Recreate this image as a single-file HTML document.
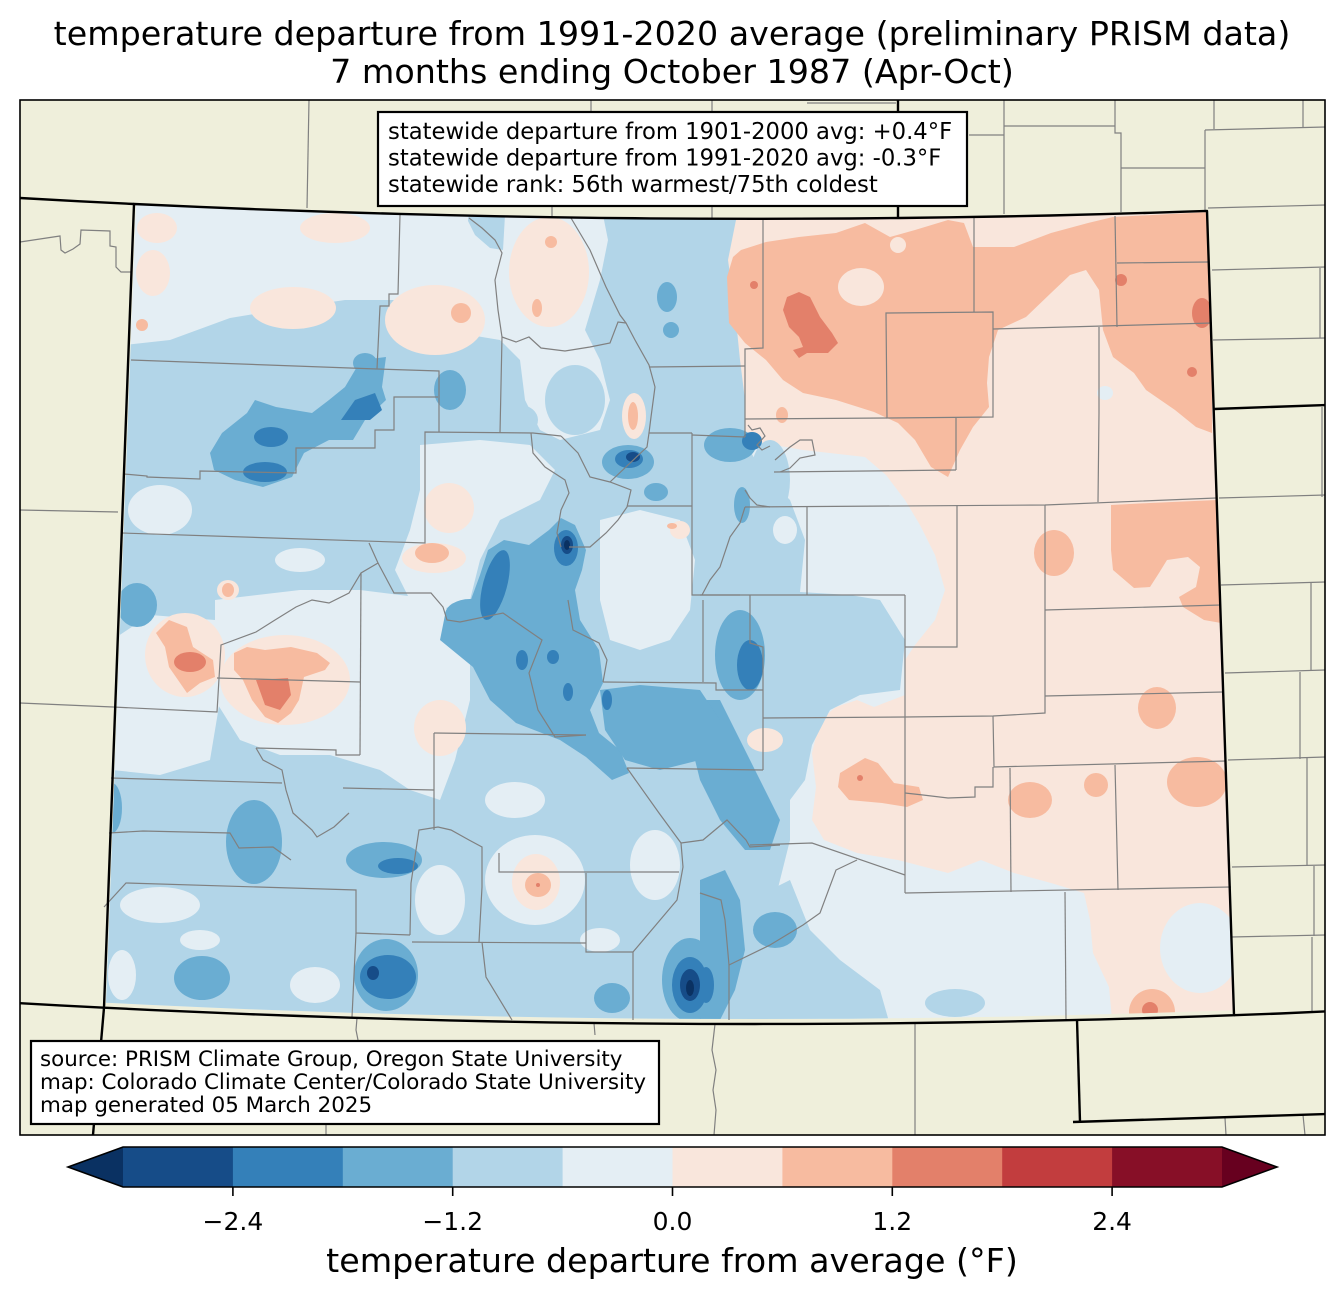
<!DOCTYPE html>
<html><head><meta charset="utf-8"><style>
html,body{margin:0;padding:0;background:#fff;}
svg{display:block;}
text{font-family:"DejaVu Sans","Liberation Sans",sans-serif;fill:#000;}
</style></head><body>
<svg xmlns="http://www.w3.org/2000/svg" width="1344" height="1299" viewBox="0 0 1344 1299">
<defs>
<clipPath id="co"><polygon points="136,204 200,206.9 250,209 300,210.8 350,212.5 400,213.9 450,215.2 500,216.3 550,217.2 600,217.9 650,218.4 700,218.7 755,218.8 800,218.7 850,218.5 900,218 950,217.3 1000,216.5 1050,215.5 1100,214.2 1150,212.8 1207,210.9 1233,1010.5 1200,1011.4 1150,1013 1100,1014.4 1050,1015.6 1000,1016.7 950,1017.5 900,1018.2 850,1018.7 800,1018.9 755,1019 700,1018.9 650,1018.6 600,1018.1 550,1017.4 500,1016.5 450,1015.4 400,1014.1 350,1012.7 300,1011 250,1009.2 200,1007.1 150,1004.9 106,1002.7"/></clipPath>
<clipPath id="fr"><rect x="20" y="100" width="1305" height="1035"/></clipPath>
</defs>
<rect width="1344" height="1299" fill="#fff"/>
<text x="672" y="45" font-size="33.3" text-anchor="middle">temperature departure from 1991-2020 average (preliminary PRISM data)</text>
<text x="672" y="83" font-size="33.3" text-anchor="middle">7 months ending October 1987 (Apr-Oct)</text>
<rect x="20" y="100" width="1305" height="1035" fill="#efefdb"/>

<g clip-path="url(#co)">
<rect x="90" y="190" width="1170" height="850" fill="#e4eef4"/>
<!-- east pink -->
<polygon fill="#f9e6dc" points="722,200 1250,200 1250,1030 1113,1030 1109,987 1093,953 1090,920 1084,893 1051,883 1014,873 981,860 948,873 898,860 857,853 824,840 812,820 816,787 812,753 820,720 836,707 857,700 874,707 905,695 905,660 915,645 935,620 945,590 935,555 920,525 905,500 886,475 865,457 803,450 745,440 745,423 740,390 729,350 722,300"/>
<!-- L4 main -->
<polygon fill="#b2d5e8" points="124,345 170,340 230,318 290,308 345,300 395,300 430,320 470,335 500,340 520,360 525,400 540,430 560,440 600,430 610,400 600,360 585,330 600,280 608,240 600,200 740,200 728,260 735,310 740,360 745,400 745,440 760,470 790,500 805,540 800,592 850,595 880,600 905,640 900,690 860,695 830,710 812,745 805,780 790,800 790,840 780,880 770,920 760,960 750,1030 90,1030 90,345"/>
<polygon fill="#b2d5e8" points="465,215 505,215 503,250 490,248 475,235"/>
<ellipse cx="575" cy="400" rx="30" ry="35" fill="#b2d5e8"/>
<ellipse cx="520" cy="420" rx="18" ry="15" fill="#b2d5e8"/>
<ellipse cx="770" cy="480" rx="20" ry="40" fill="#b2d5e8"/>
<polygon fill="#b2d5e8" points="750,900 790,880 810,930 840,960 880,990 890,1025 750,1025"/>
<ellipse cx="955" cy="1003" rx="30" ry="14" fill="#b2d5e8"/>
<!-- base holes -->
<g fill="#e4eef4">
<polygon points="90,200 470,200 465,250 460,295 430,300 395,290 345,288 290,295 240,305 190,320 150,330 90,335"/>
<ellipse cx="160" cy="510" rx="32" ry="25"/>
<polygon points="420,445 480,440 530,445 555,470 540,500 500,520 480,560 470,600 440,610 410,600 395,570 410,530 420,490"/>
<polygon points="215,600 300,590 360,590 440,600 470,640 470,700 455,760 440,800 410,790 380,770 330,755 280,755 240,740 215,700"/>
<polygon points="112,640 150,615 215,620 220,700 210,760 160,775 112,770"/>
<polygon points="600,520 640,510 680,520 695,560 690,610 670,640 640,650 610,640 600,600"/>
<ellipse cx="785" cy="530" rx="12" ry="14"/>
<ellipse cx="160" cy="905" rx="40" ry="18"/>
<ellipse cx="200" cy="940" rx="20" ry="10"/>
<ellipse cx="122" cy="975" rx="14" ry="25"/>
<ellipse cx="315" cy="985" rx="25" ry="18"/>
<ellipse cx="440" cy="900" rx="25" ry="35"/>
<ellipse cx="515" cy="800" rx="30" ry="18"/>
<ellipse cx="535" cy="880" rx="50" ry="45"/>
<ellipse cx="600" cy="940" rx="20" ry="12"/>
<ellipse cx="655" cy="865" rx="25" ry="35"/>
<ellipse cx="300" cy="560" rx="25" ry="12"/>
<ellipse cx="1200" cy="948" rx="40" ry="45"/>
<ellipse cx="1105" cy="393" rx="8" ry="7"/>
</g>
<!-- west pink -->
<g fill="#f9e6dc">
<ellipse cx="157" cy="228" rx="20" ry="15"/>
<ellipse cx="153" cy="273" rx="17" ry="23"/>
<ellipse cx="293" cy="308" rx="43" ry="21"/>
<ellipse cx="335" cy="228" rx="35" ry="15"/>
<ellipse cx="435" cy="320" rx="50" ry="35"/>
<ellipse cx="549" cy="272" rx="40" ry="55"/>
<ellipse cx="634" cy="416" rx="12" ry="23"/>
<ellipse cx="449" cy="508" rx="25" ry="25"/>
<ellipse cx="434" cy="558" rx="32" ry="15"/>
<ellipse cx="228" cy="590" rx="11" ry="10"/>
<ellipse cx="185" cy="655" rx="40" ry="42"/>
<ellipse cx="285" cy="680" rx="65" ry="45"/>
<ellipse cx="440" cy="728" rx="26" ry="28"/>
<ellipse cx="536" cy="882" rx="24" ry="28"/>
<ellipse cx="765" cy="740" rx="18" ry="12"/>
<ellipse cx="680" cy="530" rx="10" ry="9"/>
</g>
<!-- salmon -->
<g fill="#f7bba0">
<polygon points="741,250 766,242 799,237 836,233 865,223 890,237 915,230 948,220 964,223 973,247 1014,247 1051,233 1088,223 1113,217 1212,212 1212,433 1196,427 1175,410 1146,390 1134,373 1113,357 1103,330 1099,290 1086,270 1070,275 1051,293 1026,317 998,330 989,357 987,383 989,407 973,427 960,450 948,477 931,467 915,440 898,423 874,412 836,400 803,393 783,380 766,360 745,343 729,323 727,277 733,257"/>
<polygon points="1111,505 1150,503 1217,500 1221,623 1204,620 1183,607 1179,597 1196,587 1200,567 1188,557 1167,560 1159,573 1150,587 1134,588 1113,570 1111,550"/>
<ellipse cx="1054" cy="553" rx="20" ry="23"/>
<ellipse cx="1157" cy="708" rx="19" ry="21"/>
<ellipse cx="1197" cy="782" rx="30" ry="25"/>
<ellipse cx="1096" cy="785" rx="12" ry="12"/>
<ellipse cx="1030" cy="800" rx="22" ry="18"/>
<polygon points="840,773 865,758 878,763 894,783 919,787 923,800 907,807 882,803 849,800 838,787"/>
<ellipse cx="1152" cy="1012" rx="23" ry="23"/>
<ellipse cx="142" cy="325" rx="6" ry="6"/>
<ellipse cx="461" cy="313" rx="10" ry="10"/>
<ellipse cx="537" cy="308" rx="5" ry="9"/>
<ellipse cx="551" cy="242" rx="6" ry="6"/>
<ellipse cx="633" cy="416" rx="5" ry="14"/>
<ellipse cx="432" cy="553" rx="17" ry="10"/>
<ellipse cx="228" cy="590" rx="6" ry="7"/>
<ellipse cx="782" cy="415" rx="6" ry="8"/>
<ellipse cx="672" cy="526" rx="5" ry="3"/>
<polygon points="156,633 169,620 187,627 193,647 213,660 215,677 200,683 187,693 178,680 169,667 165,647"/>
<polygon points="234,653 247,647 265,650 291,647 317,653 330,663 325,670 304,677 299,700 291,713 278,723 265,717 252,700 243,680 234,670"/>
<ellipse cx="538" cy="885" rx="13" ry="12"/>
</g>
<g fill="#f9e6dc">
<ellipse cx="861" cy="287" rx="23" ry="19"/>
<ellipse cx="898" cy="245" rx="8" ry="8"/>
</g>
<g fill="#e3806a">
<polygon points="787,297 799,292 810,297 820,317 832,333 838,343 828,353 807,353 799,358 793,350 803,347 799,337 789,327 783,310"/>
<circle cx="1121" cy="280" r="6"/>
<ellipse cx="1202" cy="313" rx="10" ry="15"/>
<circle cx="754" cy="285" r="4"/>
<circle cx="1192" cy="372" r="5"/>
<circle cx="860" cy="778" r="3"/>
<ellipse cx="1150" cy="1010" rx="8" ry="8"/>
<ellipse cx="190" cy="662" rx="16" ry="10"/>
<polygon points="256,680 288,678 291,695 280,710 265,705"/>
<circle cx="538" cy="885" r="2"/>
</g>
<!-- L3 -->
<g fill="#6aadd2">
<polygon points="210,453 222,433 247,413 255,400 276,407 312,413 329,400 345,387 361,360 386,357 382,387 386,400 365,420 353,440 329,440 304,453 292,477 263,487 235,480 214,470"/>
<ellipse cx="450" cy="390" rx="16" ry="20"/>
<ellipse cx="365" cy="363" rx="12" ry="10"/>
<polygon points="469,605 480,575 488,550 504,540 529,545 549,530 561,518 575,525 586,550 582,570 575,590 580,620 599,650 603,683 590,710 599,733 620,750 629,773 612,780 586,757 560,740 516,723 490,700 473,667 440,640 445,615"/>
<ellipse cx="740" cy="655" rx="25" ry="45"/>
<ellipse cx="628" cy="462" rx="26" ry="17"/>
<ellipse cx="656" cy="492" rx="12" ry="9"/>
<ellipse cx="730" cy="445" rx="26" ry="17"/>
<ellipse cx="742" cy="505" rx="8" ry="18"/>
<polygon points="690,700 720,700 740,740 760,780 780,820 770,850 745,850 720,820 700,780 690,740"/>
<polygon points="600,690 640,685 700,690 720,720 700,760 660,770 625,760 605,730"/>
<ellipse cx="254" cy="842" rx="28" ry="42"/>
<ellipse cx="202" cy="978" rx="28" ry="22"/>
<ellipse cx="384" cy="860" rx="38" ry="18"/>
<ellipse cx="386" cy="975" rx="32" ry="36"/>
<ellipse cx="690" cy="980" rx="28" ry="42"/>
<ellipse cx="612" cy="998" rx="18" ry="15"/>
<ellipse cx="112" cy="808" rx="10" ry="25"/>
<ellipse cx="137" cy="605" rx="20" ry="22"/>
<ellipse cx="667" cy="297" rx="10" ry="15"/>
<ellipse cx="671" cy="330" rx="8" ry="8"/>
<polygon points="700,880 725,870 740,900 745,950 735,990 720,1020 700,1020"/>
<ellipse cx="775" cy="930" rx="22" ry="18"/>
<ellipse cx="470" cy="615" rx="25" ry="16"/>
</g>
<!-- L2 -->
<g fill="#3480b9">
<ellipse cx="271" cy="437" rx="17" ry="10"/>
<polygon points="341,420 355,400 375,393 382,410 370,420"/>
<ellipse cx="265" cy="472" rx="22" ry="10"/>
<ellipse cx="495" cy="585" rx="12" ry="36" transform="rotate(15 495 585)"/>
<ellipse cx="566" cy="548" rx="12" ry="18"/>
<ellipse cx="522" cy="660" rx="6" ry="10"/>
<ellipse cx="553" cy="657" rx="6" ry="7"/>
<ellipse cx="568" cy="692" rx="5" ry="9"/>
<ellipse cx="607" cy="700" rx="5" ry="10"/>
<ellipse cx="629" cy="459" rx="14" ry="9"/>
<ellipse cx="750" cy="665" rx="13" ry="25"/>
<ellipse cx="752" cy="441" rx="10" ry="9"/>
<ellipse cx="398" cy="866" rx="20" ry="8"/>
<ellipse cx="388" cy="977" rx="28" ry="22"/>
<ellipse cx="690" cy="985" rx="18" ry="28"/>
<ellipse cx="706" cy="985" rx="8" ry="18"/>
</g>
<g fill="#164c88">
<ellipse cx="567" cy="545" rx="6" ry="9"/>
<ellipse cx="633" cy="457" rx="7" ry="5"/>
<ellipse cx="373" cy="973" rx="6" ry="7"/>
<ellipse cx="690" cy="985" rx="10" ry="16"/>
</g>
<g fill="#0a3162">
<ellipse cx="690" cy="988" rx="4" ry="8"/>
<ellipse cx="567" cy="545" rx="3" ry="5"/>
</g>
</g>

<!-- county lines -->
<g fill="none" stroke="#808080" stroke-width="1.2" clip-path="url(#fr)">
<polyline points="400,215 398,294 389,294 389,306 380,306 377,369"/>
<polyline points="131,360 377,369 439,371 439,432"/>
<polyline points="124,474 147,476 147,477 200,479 200,471 296,473 296,448 375,448 375,430 394,430 394,397 438,397"/>
<polyline points="122,533 425,543 425,432 533,433 561,436"/>
<polyline points="469,218 482,228 495,240 502,253 495,280 498,310 502,337 500,433"/>
<polyline points="571,218 590,250 606,287 620,315 626,323 635,340 649,365 655,387 651,417 649,433"/>
<polyline points="502,337 516,342 529,337 541,348 565,351 590,347 610,343 618,322 626,323"/>
<polyline points="649,367 745,366"/>
<polyline points="763,218 763,348 745,349 745,437"/>
<polyline points="531,433 533,453 545,467 565,480 569,493 561,510 557,533 561,547"/>
<polyline points="561,436 578,453 590,477 610,482 631,490 627,507 618,520 606,533 590,547 569,547"/>
<polyline points="610,482 647,447 649,433 692,433"/>
<polyline points="627,506 692,506"/>
<polyline points="692,433 692,595 740,595"/>
<polyline points="692,435 745,437"/>
<polyline points="369,543 378,563 361,573 349,593 329,603 312,600 296,607 275,620 256,632 221,645 217,712 113,707"/>
<polyline points="378,563 394,593 431,593 443,607 447,620 460,622 503,613 542,640 529,673 538,710 555,737 586,735"/>
<polyline points="217,678 360,682"/>
<polyline points="361,573 360,755"/>
<polyline points="256,748 336,750 336,755 360,755"/>
<polyline points="256,748 263,760 282,770 286,790 293,813 312,830 317,837 334,827 349,813"/>
<polyline points="111,778 282,783"/>
<polyline points="109,833 143,831 230,833 239,848 273,847 291,860"/>
<polyline points="104,907 126,883 356,890 356,933 410,935"/>
<polyline points="356,933 352,1017"/>
<polyline points="410,935 411,883 419,830 438,827 451,830 469,840 482,847 482,887 479,942"/>
<polyline points="412,942 586,943"/>
<polyline points="482,942 486,977 512,1020"/>
<polyline points="499,853 499,872 679,872"/>
<polyline points="586,873 586,952 633,952 633,1020"/>
<polyline points="343,788 434,790"/>
<polyline points="434,733 434,830"/>
<polyline points="434,733 586,735"/>
<polyline points="603,682 716,683 716,690 763,690"/>
<polyline points="627,768 763,770"/>
<polyline points="627,768 659,813 681,843 683,867 677,900 633,952"/>
<polyline points="681,843 703,840 727,820 746,840 750,847 780,845"/>
<polyline points="750,845 812,843 905,875"/>
<polyline points="700,893 721,900 725,920 729,965 729,1020"/>
<polyline points="857,860 836,870 820,913 803,925 770,945 729,965"/>
<polyline points="568,600 573,630 599,643 607,660 603,682"/>
<polyline points="703,600 703,682"/>
<polyline points="750,595 750,643 763,647 763,770"/>
<polyline points="700,595 905,595"/>
<polyline points="905,595 905,893"/>
<polyline points="905,647 957,647 957,505"/>
<polyline points="763,718 905,717"/>
<polyline points="905,717 993,716 1045,713 1045,505"/>
<polyline points="1045,610 1221,605"/>
<polyline points="1045,696 1223,692"/>
<polyline points="993,716 994,767 1226,761"/>
<polyline points="1010,768 1011,892"/>
<polyline points="1115,765 1118,890"/>
<polyline points="905,793 923,795 948,798 975,797 975,787 993,787 993,767"/>
<polyline points="905,893 1231,887"/>
<polyline points="1065,892 1066,1020"/>
<polygon points="886,313 993,312 993,417 887,418"/>
<polyline points="974,217 974,312"/>
<polyline points="993,329 1212,323"/>
<polyline points="1115,216 1117,327"/>
<polyline points="1117,263 1208,262"/>
<polyline points="1099,327 1099,413 1098,502"/>
<polyline points="745,419 887,418"/>
<polyline points="956,418 956,470"/>
<polyline points="774,472 956,470"/>
<polyline points="745,507 1045,505 1216,498"/>
<polyline points="807,507 807,595"/>
<polyline points="748,425 752,430 760,428 765,436 757,445 762,450 770,446"/>
<polyline points="775,460 790,447 800,440 812,440 815,455 800,458 790,468 780,472"/>
<polyline points="745,490 750,498 757,505 770,507"/>
<polyline points="745,507 740,523 730,537 720,567 710,580 702,595"/>
<!-- outside -->
<polyline points="309,100 307,208"/>
<polyline points="20,242 60,236 61,250 65,253 73,249 80,244 81,230 110,231 110,246 116,247 116,267 121,272 131,272"/>
<polyline points="20,510 118,512"/>
<polyline points="20,703 113,707"/>
<polyline points="591,100 591,112"/>
<polyline points="712,100 712,112"/>
<polyline points="712,206 712,218"/>
<polyline points="552,206 552,217"/>
<polyline points="807,103 896,103"/>
<polyline points="969,135 1004,135"/>
<polyline points="1004,100 1004,214"/>
<polyline points="1004,126 1115,126"/>
<polyline points="1115,100 1115,133 1121,133 1121,212"/>
<polyline points="1121,168 1205,168"/>
<polyline points="1205,130 1205,211"/>
<polyline points="1205,130 1326,127"/>
<polyline points="1214,100 1214,129"/>
<polyline points="1303,100 1303,127"/>
<polyline points="1208,208 1326,205"/>
<polyline points="1212,270 1326,267"/>
<polyline points="1320,268 1320,338"/>
<polyline points="1213,340 1326,338"/>
<polyline points="1219,498 1326,495"/>
<polyline points="1322,407 1322,497"/>
<polyline points="1221,585 1326,582"/>
<polyline points="1311,583 1311,671"/>
<polyline points="1225,673 1326,670"/>
<polyline points="1300,672 1300,759"/>
<polyline points="1228,760 1326,757"/>
<polyline points="1307,758 1307,866"/>
<polyline points="1232,867 1326,865"/>
<polyline points="1314,866 1314,936"/>
<polyline points="1231,937 1326,935"/>
<polyline points="1312,937 1312,1012"/>
<polyline points="357,1018 356,1030 358,1040"/>
<polyline points="326,1124 326,1135"/>
<polyline points="594,1023 595,1035"/>
<polyline points="715,1024 712,1050 716,1070 713,1090 716,1110 714,1135"/>
<polyline points="915,1023 915,1135"/>
<polyline points="1225,1118 1226,1135"/>
<polyline points="1303,1115 1305,1135"/>
</g>

<!-- state borders -->
<g fill="none" stroke="#000" stroke-width="2.4" clip-path="url(#fr)" stroke-linejoin="round">
<polygon points="134,204 200,206.9 250,209 300,210.8 350,212.5 400,213.9 450,215.2 500,216.3 550,217.2 600,217.9 650,218.4 700,218.7 755,218.8 800,218.7 850,218.5 900,218 950,217.3 1000,216.5 1050,215.5 1100,214.2 1150,212.8 1207,210.9 1234,1015.2 1200,1016.4 1150,1018 1100,1019.4 1050,1020.6 1000,1021.7 950,1022.5 900,1023.2 850,1023.7 800,1023.9 755,1024 700,1023.9 650,1023.6 600,1023.1 550,1022.4 500,1021.5 450,1020.4 400,1019.1 350,1017.7 300,1016 250,1014.2 200,1012.1 150,1009.9 104,1007.7"/>
<polyline points="20,198 80,201.3 134,204"/>
<polyline points="898,100 898,218"/>
<polyline points="1214,409 1326,405"/>
<polyline points="1234,1015.2 1280,1013.5 1326,1011.4"/>
<polyline points="20,1003.2 60,1005.4 104,1007.7"/>
<polyline points="104,1007.7 93,1135"/>
<polyline points="1077,1019.6 1080,1122"/>
<polyline points="1073,1122 1326,1114"/>
</g>
<rect x="20" y="100" width="1305" height="1035" fill="none" stroke="#000" stroke-width="1.6"/>

<!-- info boxes -->
<rect x="378" y="112" width="589" height="94" fill="#fff" stroke="#000" stroke-width="2.2"/>
<text x="388" y="139" font-size="22.7">statewide departure from 1901-2000 avg: +0.4°F</text>
<text x="388" y="165.5" font-size="22.7">statewide departure from 1991-2020 avg: -0.3°F</text>
<text x="388" y="192" font-size="22.7">statewide rank: 56th warmest/75th coldest</text>

<rect x="31" y="1041" width="628" height="83" fill="#fff" stroke="#000" stroke-width="2.2"/>
<text x="40" y="1066" font-size="21.4">source: PRISM Climate Group, Oregon State University</text>
<text x="40" y="1089" font-size="21.4">map: Colorado Climate Center/Colorado State University</text>
<text x="40" y="1112" font-size="21.4">map generated 05 March 2025</text>

<!-- colorbar -->
<polygon points="68,1167 123,1147 123,1187" fill="#0a3162"/>
<rect x="123" y="1147" width="110.4" height="40" fill="#164c88"/>
<rect x="232.9" y="1147" width="110.4" height="40" fill="#3480b9"/>
<rect x="342.8" y="1147" width="110.4" height="40" fill="#6aadd2"/>
<rect x="452.7" y="1147" width="110.4" height="40" fill="#b2d5e8"/>
<rect x="562.6" y="1147" width="110.4" height="40" fill="#e4eef4"/>
<rect x="672.5" y="1147" width="110.4" height="40" fill="#f9e6dc"/>
<rect x="782.4" y="1147" width="110.4" height="40" fill="#f7bba0"/>
<rect x="892.3" y="1147" width="110.4" height="40" fill="#e3806a"/>
<rect x="1002.2" y="1147" width="110.4" height="40" fill="#c23d3e"/>
<rect x="1112.1" y="1147" width="109.9" height="40" fill="#870f27"/>
<polygon points="1222,1147 1277,1167 1222,1187" fill="#67001f"/>
<polygon points="68,1167 123,1147 1222,1147 1277,1167 1222,1187 123,1187" fill="none" stroke="#000" stroke-width="1.6"/>
<g stroke="#000" stroke-width="1.6">
<line x1="232.9" y1="1187" x2="232.9" y2="1196"/>
<line x1="452.7" y1="1187" x2="452.7" y2="1196"/>
<line x1="672.5" y1="1187" x2="672.5" y2="1196"/>
<line x1="892.3" y1="1187" x2="892.3" y2="1196"/>
<line x1="1112.1" y1="1187" x2="1112.1" y2="1196"/>
</g>
<g font-size="25" text-anchor="middle">
<text x="232.9" y="1230">−2.4</text>
<text x="452.7" y="1230">−1.2</text>
<text x="672.5" y="1230">0.0</text>
<text x="892.3" y="1230">1.2</text>
<text x="1112.1" y="1230">2.4</text>
</g>
<text x="672" y="1272" font-size="33.3" text-anchor="middle">temperature departure from average (°F)</text>
</svg>
</body></html>
